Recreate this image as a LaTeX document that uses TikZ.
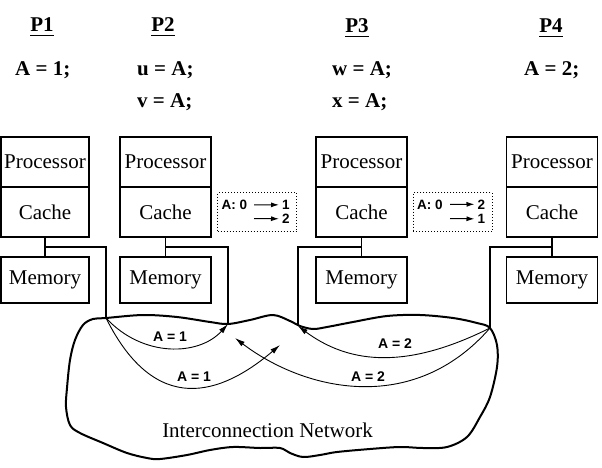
\documentclass[tikz,border=0pt]{standalone}
\usepackage{fontspec}
\setmainfont{Liberation Serif}
\setsansfont{Liberation Sans}
\usetikzlibrary{arrows.meta}
\begin{document}
\begin{tikzpicture}[x=1pt,y=-1pt,
  unit/.style={draw,line width=1.5pt,minimum width=91pt,minimum height=50pt,inner sep=0pt,font=\fontsize{21}{24}\selectfont},
  memunit/.style={unit,minimum height=46pt},
  code/.style={font=\fontsize{21}{25}\selectfont\bfseries,inner sep=0pt,anchor=base west},
  plab/.style={font=\fontsize{21}{25}\selectfont\bfseries,inner sep=0pt,anchor=base},
  wire/.style={line width=1.5pt},
  msg/.style={line width=0.9pt,-{Latex[length=10pt,width=5.5pt]}},
  msglab/.style={font=\sffamily\bfseries\fontsize{14}{16}\selectfont,inner sep=0pt},
  dbox/.style={draw,dotted,line width=1pt,minimum width=79pt,minimum height=39pt,inner sep=0pt},
  dtext/.style={font=\sffamily\bfseries\fontsize{13.5}{15}\selectfont,inner sep=0pt,anchor=base west},
  darrow/.style={line width=1pt,-{Latex[length=8pt,width=5pt]}}
]
\useasboundingbox (0,0) rectangle (602,468);

% program labels
\node[plab] (p1) at (42,32) {P1};
\node[plab] (p2) at (163,32) {P2};
\node[plab] (p3) at (357,33) {P3};
\node[plab] (p4) at (551,33) {P4};
\foreach \p in {p1,p2,p3,p4}
  \draw[line width=1.1pt] ([yshift=-3.5pt]\p.base west) -- ([yshift=-3.5pt]\p.base east);
\node[code] (c1) at (15,76) {A = 1;};
\node[code] (c2a) at (137,76) {u = A;};
\node[code] (c2b) at (137,108) {v = A;};
\node[code] (c3a) at (332,76) {w = A;};
\node[code] (c3b) at (332,108) {x = A;};
\node[code] (c4) at (524,76) {A = 2;};

% processor units
\node[unit,minimum width=88pt] (proc1) at (45,162) {Processor};
\node[unit,minimum width=88pt] (cache1) at (45,212) {Cache};
\node[memunit,minimum width=88pt] (mem1) at (45,280) {Memory};
\node[unit] (proc2) at (165.5,162) {Processor};
\node[unit] (cache2) at (165.5,212) {Cache};
\node[memunit] (mem2) at (165.5,280) {Memory};
\node[unit] (proc3) at (361.5,162) {Processor};
\node[unit] (cache3) at (361.5,212) {Cache};
\node[memunit] (mem3) at (361.5,280) {Memory};
\node[unit] (proc4) at (552,162) {Processor};
\node[unit] (cache4) at (552,212) {Cache};
\node[memunit] (mem4) at (552,280) {Memory};

% connections to network
\coordinate (y247) at (0,247);
\coordinate (d1top) at (106,247);
\coordinate (d1bot) at (106,318);
\coordinate (d2top) at (228,247);
\coordinate (d2bot) at (228,324);
\coordinate (d3top) at (298,247);
\coordinate (d3bot) at (298,326);
\coordinate (d4top) at (490,247);
\coordinate (d4bot) at (490,328);
\foreach \i in {1,2,3,4}{
  \draw[wire] (cache\i.south) -- (mem\i.north);
  \draw[wire] (cache\i.south |- y247) -- (d\i top) -- (d\i bot);
}

% network outline
\draw[line width=2pt] plot[smooth cycle,tension=0.55] coordinates {
 (106,318) (143,315) (177,317) (210,322) (228,324) (250,320) (273,315)
 (290,321) (300,326) (313,329) (327,327) (353,322) (387,316) (420,315)
 (453,318) (477,323) (490,328) (497,345) (497,367) (490,397) (480,417)
 (467,437) (447,447) (423,448) (400,447) (370,449) (337,452) (320,455)
 (303,457) (290,453) (280,448) (260,448) (233,447) (210,450) (187,455)
 (160,459) (147,458) (127,453) (103,443) (80,433) (70,425) (66,407)
 (67,388) (70,360) (75,340) (83,325) (93,319)};

\node[font=\fontsize{21}{24}\selectfont,inner sep=0pt,anchor=base] (net) at (267.5,437) {Interconnection Network};

% messages
\coordinate (t1) at (280,345);
\coordinate (t2) at (235,338);
\draw[msg] (d1bot) .. controls (143,358) and (199,356) .. (d2bot);
\draw[msg] (d1bot) .. controls (156,418) and (221.5,394.7) .. (t1);
\draw[msg] (d4bot) .. controls (419.7,363) and (357.6,370.5) .. (d3bot);
\draw[msg] (d4bot) .. controls (413.4,416) and (304.9,391.1) .. (t2);
\node[msglab] (l1) at (170,337) {A = 1};
\node[msglab] (l2) at (194,377) {A = 1};
\node[msglab] (l3) at (395,344) {A = 2};
\node[msglab] (l4) at (368,377) {A = 2};

% cache state boxes
\node[dbox] (db2) at (257,212) {};
\node[dtext] (db2a) at (221.5,209.5) {A: 0};
\node[dtext] (db2b) at (282,209.5) {1};
\node[dtext] (db2c) at (282,223.5) {2};
\coordinate (s21) at (254,204.8);
\coordinate (s22) at (254,218.5);
\draw[darrow] (s21) -- ([xshift=-3pt]db2b.west);
\draw[darrow] (s22) -- ([xshift=-3pt]db2c.west);

\node[dbox] (db3) at (452.8,212) {};
\node[dtext] (db3a) at (417,209) {A: 0};
\node[dtext] (db3b) at (477.5,209) {2};
\node[dtext] (db3c) at (477.5,223.5) {1};
\coordinate (s31) at (450,204.5);
\coordinate (s32) at (450,218.5);
\draw[darrow] (s31) -- ([xshift=-3pt]db3b.west);
\draw[darrow] (s32) -- ([xshift=-3pt]db3c.west);
\end{tikzpicture}
\end{document}
